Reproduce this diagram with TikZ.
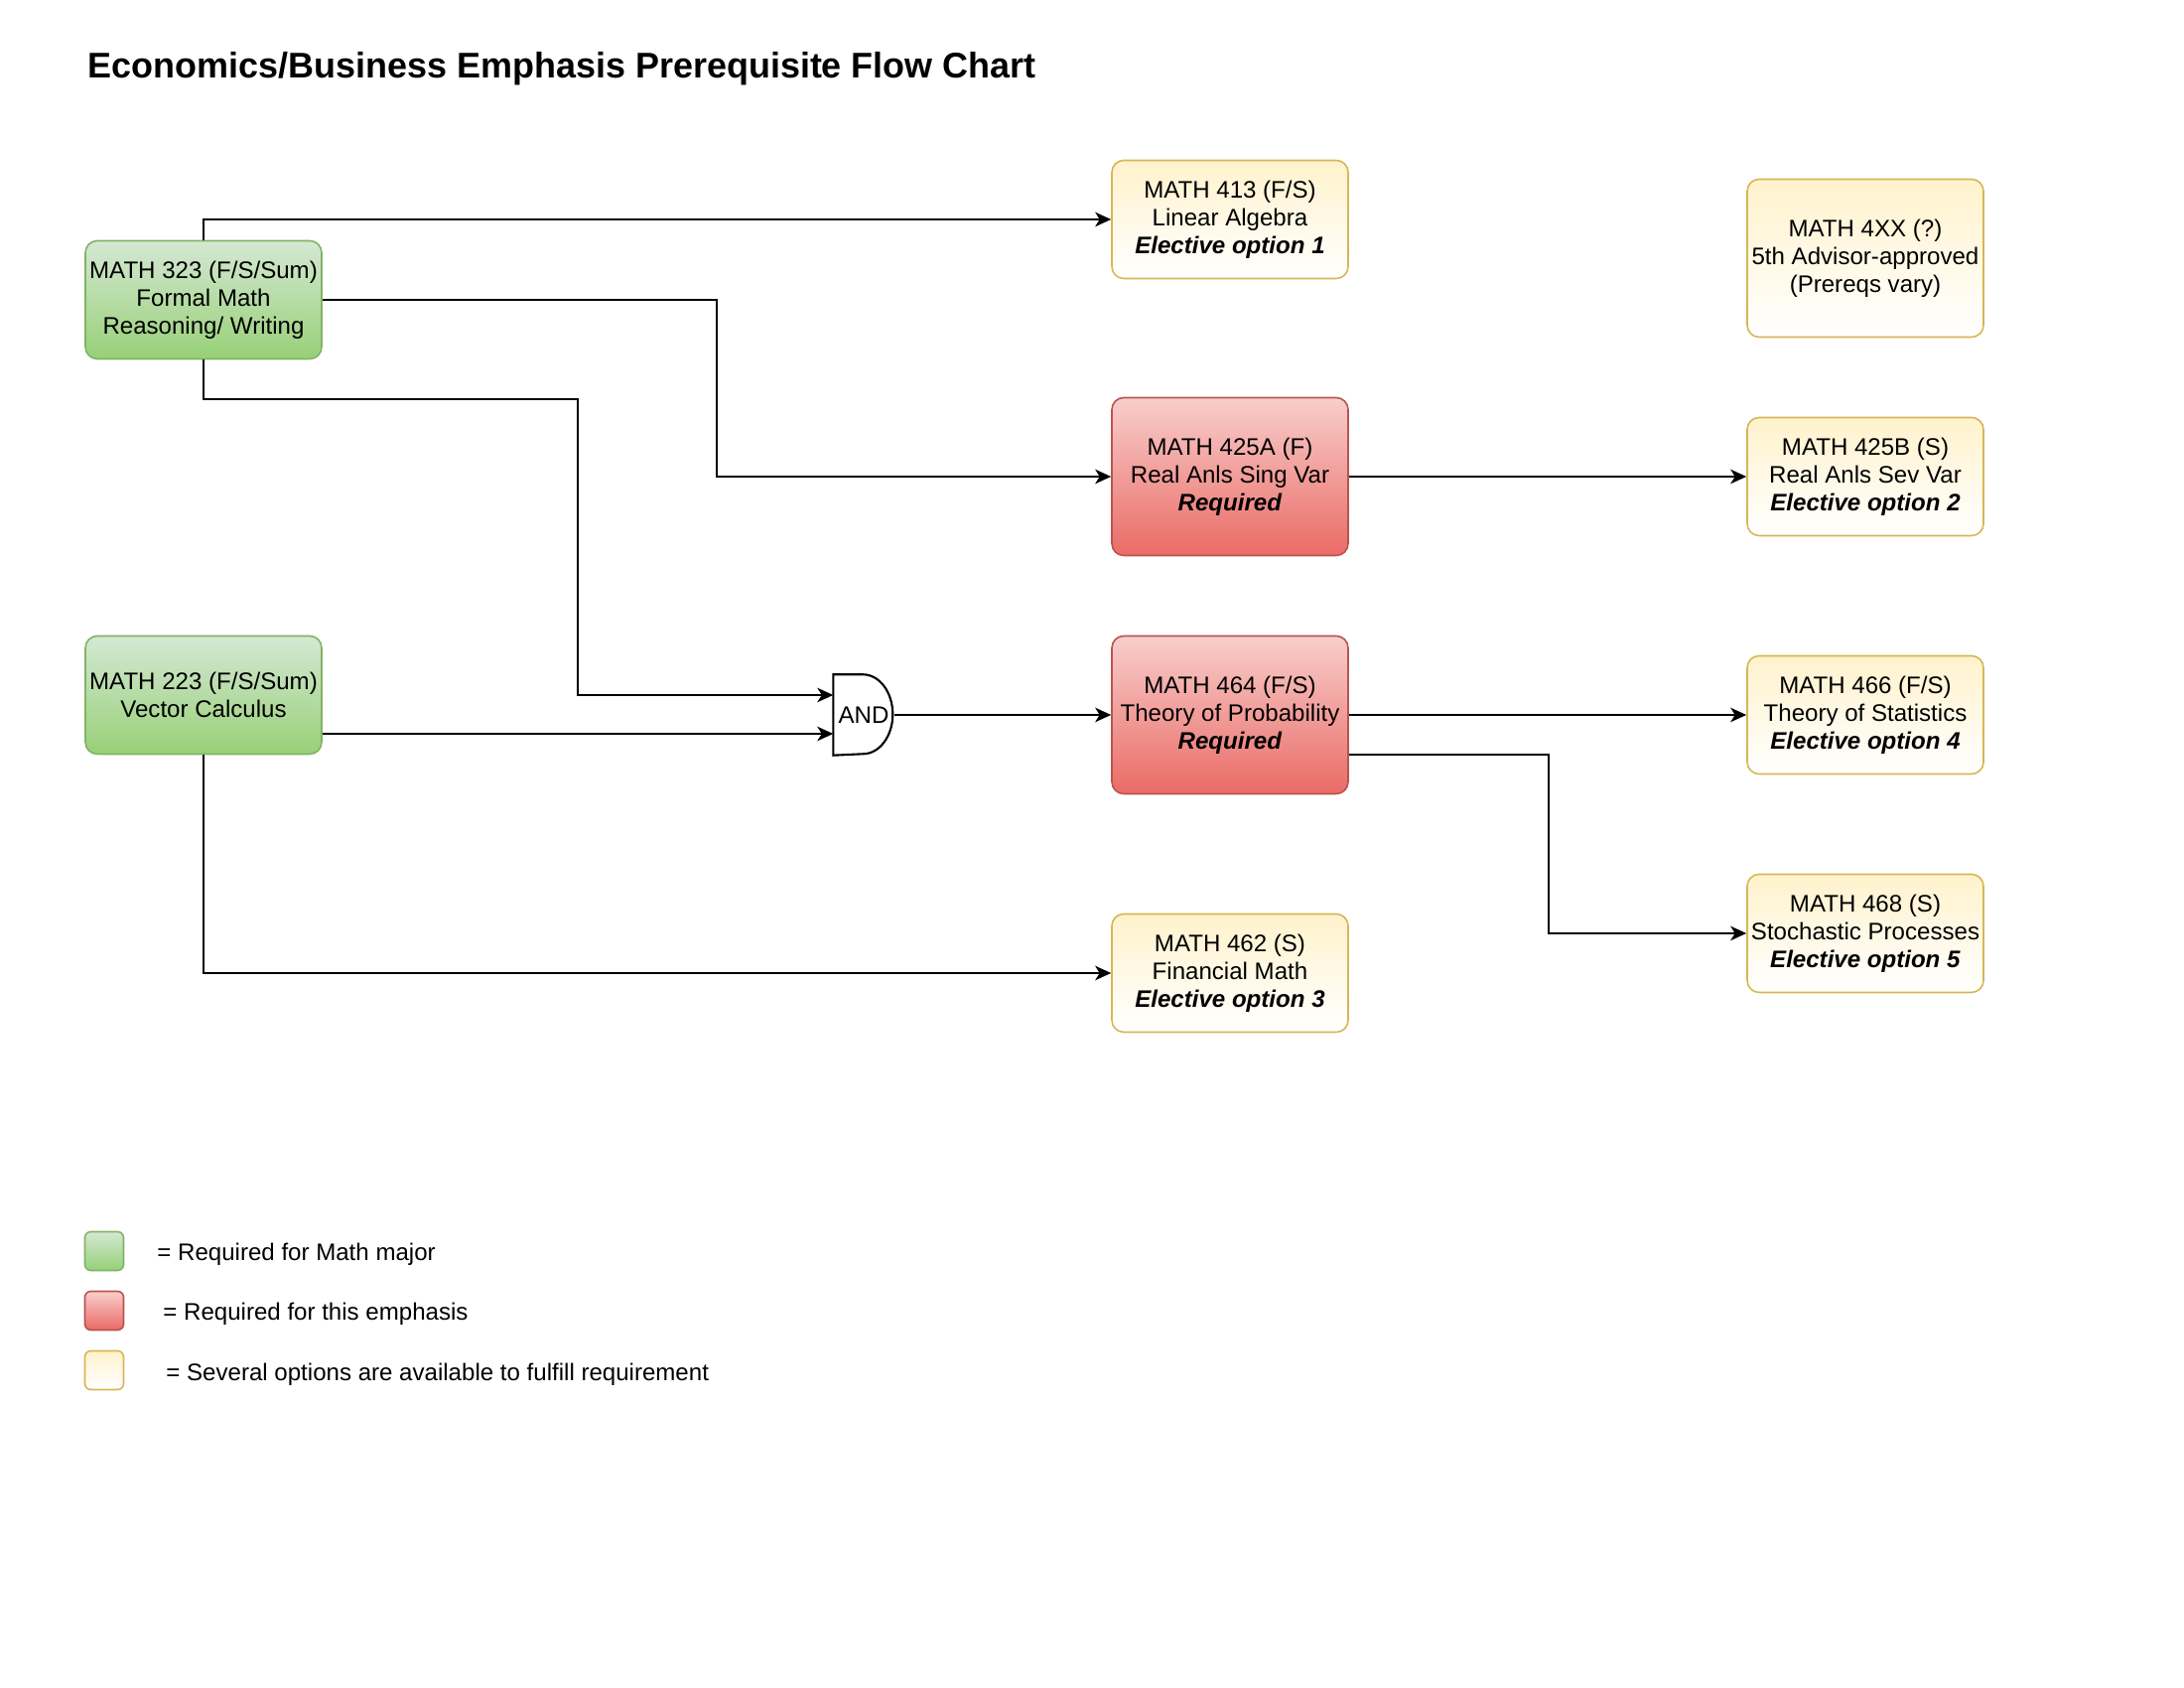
\documentclass[tikz,border=0pt]{standalone}
\usepackage{fontspec}
\setmainfont{Liberation Sans}
\usetikzlibrary{arrows.meta}

\definecolor{greenTop}{HTML}{D5E8D4}
\definecolor{greenBot}{HTML}{97D077}
\definecolor{greenLine}{HTML}{82B366}
\definecolor{redTop}{HTML}{F8CECC}
\definecolor{redBot}{HTML}{EA6B66}
\definecolor{redLine}{HTML}{B85450}
\definecolor{yellowTop}{HTML}{FFF2CC}
\definecolor{yellowLine}{HTML}{D6B656}

\begin{document}
\begin{tikzpicture}[x=0.1mm, y=-0.1mm,
  every node/.style={font=\fontsize{6.85}{8}\selectfont},
  course/.style={rectangle, rounded corners=1.2mm, minimum width=23.8mm,
    minimum height=11.9mm, align=center, inner sep=0pt, line width=0.45pt},
  tall/.style={minimum height=15.9mm},
  greenbox/.style={course, draw=greenLine, top color=greenTop, bottom color=greenBot},
  redbox/.style={course, draw=redLine, top color=redTop, bottom color=redBot},
  yellowbox/.style={course, draw=yellowLine, top color=yellowTop, bottom color=white},
  legendbox/.style={minimum width=3.9mm, minimum height=3.9mm, rounded corners=0.6mm},
  arr/.style={-{Stealth[length=1.6mm, width=1.45mm, inset=0.45mm]}, line width=0.6pt}]

  \useasboundingbox (0,0) rectangle (2200,1700);

  % Title
  \node[anchor=base west, inner sep=0pt, font=\bfseries\fontsize{10.23}{12}\selectfont] (title) at (88,79)
    {Economics/Business Emphasis Prerequisite Flow Chart};

  % Courses
  \node[greenbox] (m323) at (205,302) {MATH 323 (F/S/Sum)\\Formal Math\\Reasoning/ Writing};
  \node[greenbox] (m223) at (205,700) {MATH 223 (F/S/Sum)\\Vector Calculus};

  \node[yellowbox] (m413) at (1239,221) {MATH 413 (F/S)\\Linear Algebra\\\textbf{\textit{Elective option 1}}};
  \node[redbox, tall] (m425a) at (1239,480) {MATH 425A (F)\\Real Anls Sing Var\\\textbf{\textit{Required}}};
  \node[redbox, tall] (m464) at (1239,720) {MATH 464 (F/S)\\Theory of Probability\\\textbf{\textit{Required}}};
  \node[yellowbox] (m462) at (1239,980) {MATH 462 (S)\\Financial Math\\\textbf{\textit{Elective option 3}}};

  \node[yellowbox, tall] (m4xx) at (1879,260) {MATH 4XX (?)\\5th Advisor-approved\\(Prereqs vary)};
  \node[yellowbox] (m425b) at (1879,480) {MATH 425B (S)\\Real Anls Sev Var\\\textbf{\textit{Elective option 2}}};
  \node[yellowbox] (m466) at (1879,720) {MATH 466 (F/S)\\Theory of Statistics\\\textbf{\textit{Elective option 4}}};
  \node[yellowbox] (m468) at (1879,940) {MATH 468 (S)\\Stochastic Processes\\\textbf{\textit{Elective option 5}}};

  % AND gate
  \node[minimum width=6mm, minimum height=8mm, inner sep=0pt] (and) at (870,720) {AND};
  \draw[line width=0.6pt] (and.north west) -- ++(30,0)
    arc[start angle=90, end angle=-90, x radius=3mm, y radius=4mm] -- (and.south west) -- cycle;
  \coordinate (in1) at ([yshift=2mm]and.west);
  \coordinate (in2) at ([yshift=-1.9mm]and.west);

  % Prerequisite arrows
  \draw[arr] (m323.north) |- (m413.west);
  \draw[arr] (m323.east) -- ++(397,0) |- (m425a.west);
  \draw[arr] (m323.south) |- ++(377,40) |- (in1);
  \draw[arr] (m223.east |- in2) -- (in2);
  \draw[arr] (m223.south) |- (m462.west);
  \draw[arr] (and.east) -- (m464.west);
  \draw[arr] (m425a.east) -- (m425b.west);
  \draw[arr] (m464.east) -- (m466.west);
  \draw[arr] ([yshift=-4mm]m464.east) -- ++(201,0) |- (m468.west);

  % Legend
  \node[greenbox, legendbox] (lgreen) at (105,1260) {};
  \node[redbox, legendbox] (lred) at (105,1320) {};
  \node[yellowbox, legendbox] (lyellow) at (105,1380) {};
  \node[anchor=west] (tgreen) at (146,1263) {= Required for Math major};
  \node[anchor=west] (tred) at (152,1323) {= Required for this emphasis};
  \node[anchor=west] (tyellow) at (155,1384) {= Several options are available to fulfill requirement};
\end{tikzpicture}
\end{document}
